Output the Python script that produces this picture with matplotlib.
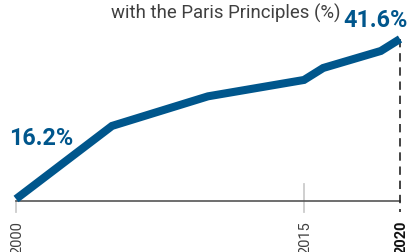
import matplotlib
matplotlib.use("Agg")
import matplotlib.pyplot as plt

years = [2000, 2005, 2010, 2015, 2016, 2019, 2020]
values = [16.2, 27.8, 32.5, 35.1, 37.0, 39.7, 41.6]
tick_years = [2000, 2015, 2020]
tick_labels = ["2000", "2015", "2020"]
title_text = "with the Paris Principles (%)"
start_label = "16.2%"
end_label = "41.6%"

W, H = 411, 253
BLUE = "#00568C"
GREY_TXT = "#404040"

plt.rcParams['font.family'] = ['Roboto', 'DejaVu Sans']

fig = plt.figure(figsize=(W / 100, H / 100), dpi=100)

def fx(px):
    return px / W

def fy(py):
    return 1 - py / H

# axes geometry: x 2000->16px, 2020->400px ; y baseline at 202px, 41.6 at 40px
x0, x1 = 16, 400
yb, yt = 202, 40
ax = fig.add_axes([fx(x0), fy(yb), fx(x1) - fx(x0), fy(yt) - fy(yb)])
scale = (200 - 40) / (values[-1] - values[0])
ymin = values[0] - 2 / scale
ax.set_xlim(2000, 2020)
ax.set_ylim(ymin, values[-1])
for s in ax.spines.values():
    s.set_visible(False)
ax.set_xticks([])
ax.set_yticks([])
ax.patch.set_alpha(0)

# tick marks / gridline
ax.plot([2000, 2000], [ymin, ymin - 11 / scale], color="#cccccc", lw=1.3, clip_on=False, zorder=1)
ax.plot([2015, 2015], [ymin + 17 / scale, ymin - 11 / scale], color="#cccccc", lw=1.3, clip_on=False, zorder=1)

# baseline axis
ax.plot([2000, 2020], [ymin, ymin], color="#555555", lw=1.2, clip_on=False, zorder=2)

# dashed line at 2020
ax.plot([2020, 2020], [values[-1], ymin - 11 / scale], color="#222222", lw=1.2,
        dashes=(5, 3.5), clip_on=False, zorder=2)

# main line
ax.plot(years, values, color=BLUE, lw=5.8, solid_capstyle="butt", solid_joinstyle="miter",
        clip_on=False, zorder=3)

# tick labels
for yr, lab in zip(tick_years, tick_labels):
    xp = x0 + (yr - 2000) / 20 * (x1 - x0)
    fig.text(fx(xp + 1), fy(221), lab, rotation=90, ha="center", va="top",
             fontsize=10.5, color="#111111" if yr == 2020 else GREY_TXT,
             fontweight="bold" if yr == 2020 else "normal")

# title fragment
fig.text(fx(340), fy(18.5), title_text, ha="right", va="baseline", fontsize=13.4,
         color=GREY_TXT)

# value labels
fig.text(fx(408), fy(27), end_label, ha="right", va="baseline", fontsize=16.8,
         color=BLUE, fontweight="bold")
fig.text(fx(9), fy(145), start_label, ha="left", va="baseline", fontsize=16.8,
         color=BLUE, fontweight="bold")

fig.savefig("out.png", dpi=100)
